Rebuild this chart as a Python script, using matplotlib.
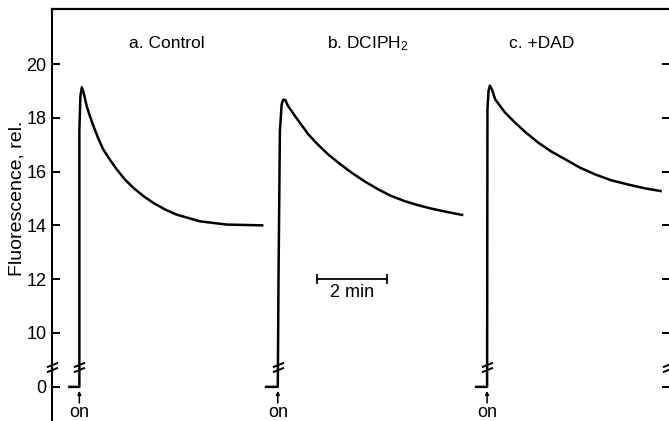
import numpy as np
import matplotlib
matplotlib.use("Agg")
import matplotlib.pyplot as plt
from matplotlib.path import Path

plt.rcParams['font.family'] = ['Liberation Sans', 'DejaVu Sans']
plt.rcParams['mathtext.fontset'] = 'custom'
plt.rcParams['mathtext.rm'] = 'Liberation Sans'
plt.rcParams['mathtext.it'] = 'Liberation Sans'

# ---- data (time in min, fluorescence rel.) ----
t_control = [0.47, 0.79, 0.79, 0.82, 0.86, 0.91, 1.00, 1.09, 1.19, 1.33, 1.47, 1.67, 1.86, 2.09,
             2.33, 2.62, 2.90, 3.24, 3.57, 4.24, 5.00, 6.05]
f_control = [0, 0, 17.5, 18.8, 19.14, 18.95, 18.44, 18.07, 17.70, 17.24, 16.83, 16.43, 16.08, 15.71,
             15.40, 15.09, 14.84, 14.59, 14.40, 14.15, 14.03, 14.00]

t_dciph = [6.09, 6.46, 6.48, 6.52, 6.57, 6.61, 6.67, 6.75, 6.95, 7.33, 7.61, 7.90, 8.24, 8.57,
           8.95, 9.33, 9.69, 10.09, 10.47, 10.86, 11.29, 11.76]
f_dciph = [0, 0, 12.0, 17.5, 18.5, 18.67, 18.67, 18.45, 18.07, 17.39, 17.00, 16.64, 16.28, 15.96,
           15.63, 15.34, 15.10, 14.90, 14.75, 14.62, 14.50, 14.38]

t_dad = [12.09, 12.44, 12.45, 12.48, 12.52, 12.58, 12.67, 12.95, 13.24, 13.55, 13.90, 14.27, 14.67,
         15.09, 15.52, 15.98, 16.47, 16.94, 17.43]
f_dad = [0, 0, 18.3, 19.0, 19.2, 19.05, 18.69, 18.20, 17.82, 17.45, 17.08, 16.75, 16.46,
         16.15, 15.90, 15.68, 15.52, 15.38, 15.27]

titles = ["a. Control", "b. DCIPH$_2$", "c. +DAD"]
title_x = [3.28, 9.02, 13.99]
on_times = [0.79, 6.46, 12.44]
yticks = [0, 10, 12, 14, 16, 18, 20]
ytick_labels = ["0", "10", "12", "14", "16", "18", "20"]
scalebar_min = [7.57, 9.57]

# ---- broken-axis scale ----
B0, B1, EPS = 0.75, 8.75, 1e-3
def fwd(y):
    y = np.asarray(y, float)
    return np.where(y <= B0, y + 8.0,
                    np.where(y >= B1, y + (B1 - B0) * EPS, 8.75 + (y - B0) * EPS))
def inv(z):
    z = np.asarray(z, float)
    top = 8.75 + (B1 - B0) * EPS
    return np.where(z <= 8.75, z - 8.0,
                    np.where(z >= top, z - (B1 - B0) * EPS, B0 + (z - 8.75) / EPS))

W, H = 669, 421
fig = plt.figure(figsize=(W / 100, H / 100), dpi=100)
ax = fig.add_axes([51.7 / W, 0, (670.5 - 51.7) / W, (421 - 9) / H])
ax.set_yscale('function', functions=(fwd, inv))
ax.set_xlim(0, (670.5 - 51.7) / 35)
ax.set_ylim(-1.27, 22.05)

lw = 1.8
for t, f in [(t_control, f_control), (t_dciph, f_dciph), (t_dad, f_dad)]:
    ax.plot(t, f, color='black', lw=lw, solid_joinstyle='round', solid_capstyle='butt')

# break marks
brk = Path([(-1, -0.85), (1, -0.05), (-1, 0.05), (1, 0.85)],
           [Path.MOVETO, Path.LINETO, Path.MOVETO, Path.LINETO])
ybrk = 4.0
ax.plot([0] + on_times + [17.62], [ybrk] * 5, ls='none', marker=brk, ms=8,
        mec='black', mew=1.4, clip_on=False)

# on arrows
for t in on_times:
    ax.annotate("", xy=(t, -0.15), xytext=(t, -0.6),
                arrowprops=dict(arrowstyle='-|>', color='black', lw=1.1,
                                mutation_scale=5, shrinkA=0, shrinkB=0))
    ax.text(t, -0.97, "on", ha='center', va='center', fontsize=13)

# titles
for x, s in zip(title_x, titles):
    ax.text(x, 20.75, s, ha='center', va='center', fontsize=12.5)

# scale bar
ax.plot(scalebar_min, [12.0, 12.0], color='black', lw=1.3)
ax.plot([scalebar_min[0]] * 2, [11.85, 12.15], color='black', lw=1.3)
ax.plot([scalebar_min[1]] * 2, [11.85, 12.15], color='black', lw=1.3)
ax.text(np.mean(scalebar_min), 11.5, "2 min", ha='center', va='center', fontsize=13)

# axes styling
ax.spines['bottom'].set_visible(False)
ax.spines['right'].set_visible(False)
ax.spines['left'].set_linewidth(1.5)
ax.spines['top'].set_linewidth(1.6)
ax.set_xticks([])
ax.set_yticks(yticks)
ax.set_yticklabels(ytick_labels)
ax.minorticks_off()
ax.tick_params(axis='y', direction='in', left=True, right=True, length=5.5,
               width=1.4, pad=3.6, labelsize=13)
ax.set_ylabel("Fluorescence, rel.", fontsize=14)
ax.yaxis.set_label_coords(-0.042, 0.54)

fig.savefig("out.png", dpi=100)
